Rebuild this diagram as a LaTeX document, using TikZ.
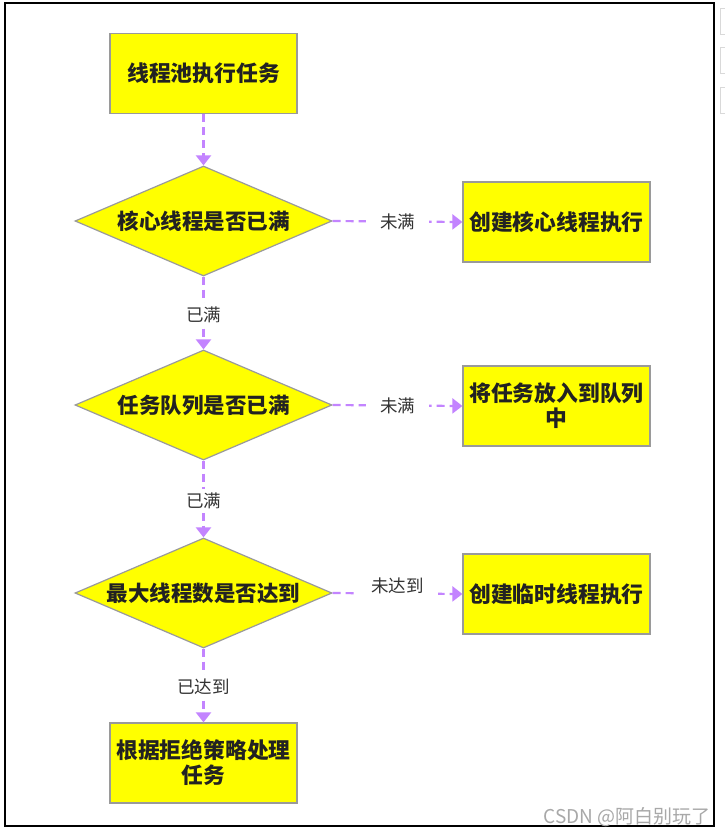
\documentclass[tikz,border=0pt]{standalone}
\usepackage{fontspec}
\newfontfamily\cjk{Noto Sans CJK SC}
\usetikzlibrary{shapes.geometric,arrows.meta}
\definecolor{boxfill}{HTML}{FFFF00}
\definecolor{boxline}{HTML}{9A9A9A}
\definecolor{arr}{HTML}{C384FF}
\definecolor{txt}{HTML}{222222}
\definecolor{lbltxt}{HTML}{333333}
\definecolor{wm}{HTML}{A8A8A8}
\tikzset{
  procbox/.style={draw=boxline, line width=1.2pt, fill=boxfill, rectangle, minimum width=187pt, minimum height=80pt, inner sep=0pt, align=center, text width=184pt, font=\cjk\bfseries\fontsize{21.8}{25}\selectfont, text=txt},
  decbox/.style={draw=boxline, line width=1.2pt, fill=boxfill, diamond, aspect=2.34, minimum width=257pt, minimum height=110pt, inner sep=0pt, font=\cjk\bfseries\fontsize{21.5}{25}\selectfont, text=txt},
  flow/.style={draw=arr, line width=2.2pt, dash pattern=on 8pt off 5pt, -{Triangle[width=15pt,length=10pt]}},
  lbl/.style={fill=white, inner sep=4pt, font=\cjk\fontsize{17.5}{21}\selectfont, text=lbltxt},
  hlbl/.style={lbl, inner xsep=14pt}
}
\begin{document}
\begin{tikzpicture}[x=1pt,y=-1pt]
\useasboundingbox (0,0) rectangle (725,836);
\fill[white] (0,0) rectangle (725,836);
\draw[black, line width=1.3pt] (5,3) rectangle (714,826);
\draw[gray!30, line width=0.8pt] (720,8) rectangle (730,34);
\draw[gray!30, line width=0.8pt] (720,47) rectangle (730,73);
\draw[gray!30, line width=0.8pt] (720,87) rectangle (730,113);

\node[procbox] (b1) at (203.5,73.5) {线程池执行任务};
\node[decbox] (d1) at (203.5,221) {核心线程是否已满};
\node[procbox] (r1) at (556.5,222) {创建核心线程执行};
\node[decbox] (d2) at (203.5,405) {任务队列是否已满};
\node[procbox] (r2) at (556.5,406) {将任务放入到队列\\中};
\node[decbox] (d3) at (203.5,593) {最大线程数是否达到};
\node[procbox] (r3) at (556.5,594) {创建临时线程执行};
\node[procbox] (b2) at (203.5,763) {根据拒绝策略处理\\任务};

\draw[flow] (b1.south) -- (d1.north);
\draw[flow] (d1.east) -- node[hlbl] {未满} (r1.west);
\draw[flow] (d1.south) -- node[lbl, pos=0.53] {已满} (d2.north);
\draw[flow] (d2.east) -- node[hlbl] {未满} (r2.west);
\draw[flow] (d2.south) -- node[lbl, pos=0.53] {已满} (d3.north);
\draw[flow] (d3.east) -- node[hlbl, yshift=8pt, inner ysep=6pt] {未达到} (r3.west);
\draw[flow] (d3.south) -- node[lbl, pos=0.52] {已达到} (b2.north);

\node[font=\cjk\fontsize{19}{22}\selectfont, text=wm, anchor=east, inner sep=0pt] (wm) at (711,817) {CSDN @阿白别玩了};
\end{tikzpicture}
\end{document}
